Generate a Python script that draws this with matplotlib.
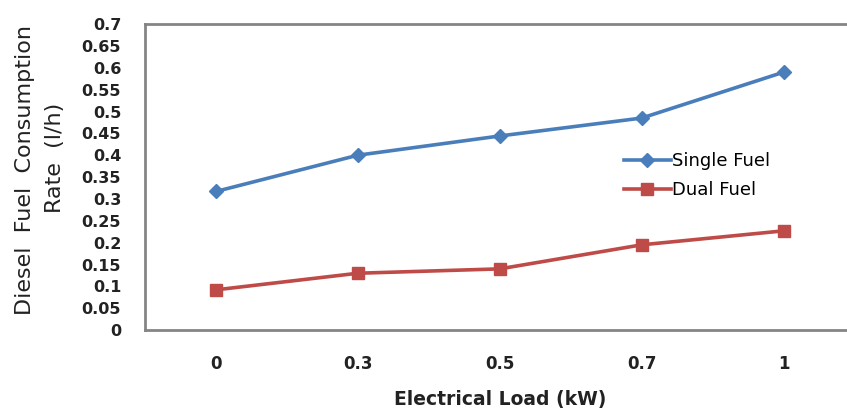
import matplotlib.pyplot as plt
import numpy as np

plt.rcParams["font.family"] = ["DejaVu Sans"]

# data
loads = ["0", "0.3", "0.5", "0.7", "1"]
single_fuel = [0.317, 0.40, 0.444, 0.485, 0.59]
dual_fuel = [0.092, 0.13, 0.14, 0.195, 0.227]
y_ticks = [0, 0.05, 0.1, 0.15, 0.2, 0.25, 0.3, 0.35, 0.4, 0.45, 0.5, 0.55, 0.6, 0.65, 0.7]
y_tick_labels = ["0", "0.05", "0.1", "0.15", "0.2", "0.25", "0.3", "0.35", "0.4",
                 "0.45", "0.5", "0.55", "0.6", "0.65", "0.7"]

BLUE = "#4a7ebb"
RED = "#be4b48"
TXT = "#222222"

fig = plt.figure(figsize=(8.47, 4.08), dpi=100)
ax = fig.add_axes([0.171, 0.191, 0.838, 0.750])

x = np.arange(len(loads))
ax.plot(x, single_fuel, color=BLUE, linewidth=2.6, marker="D", markersize=7,
        label="Single Fuel")
ax.plot(x, dual_fuel, color=RED, linewidth=2.6, marker="s", markersize=8,
        label="Dual Fuel")

ax.set_xlim(-0.5, len(loads) - 0.5)
ax.set_ylim(0, 0.7)
ax.set_xticks(x)
ax.set_xticklabels(loads, fontsize=12, fontweight="bold", color=TXT)
ax.set_yticks(y_ticks)
ax.set_yticklabels(y_tick_labels, fontsize=11.5, fontweight="bold", color=TXT)
ax.tick_params(axis="x", length=0, pad=18)
ax.tick_params(axis="y", length=0, pad=17)

for s in ax.spines.values():
    s.set_color("#858585")
    s.set_linewidth(2)

ax.set_xlabel("Electrical Load (kW)", fontsize=13.5, fontweight="bold", color=TXT,
              labelpad=12)
fig.text(25 / 847, 1 - 170 / 408, "Diesel  Fuel  Consumption", rotation=90,
         ha="center", va="center", fontsize=16, color=TXT)
fig.text(55 / 847, 1 - 158 / 408, "Rate  (l/h)", rotation=90,
         ha="center", va="center", fontsize=16, color=TXT)

ax.legend(loc="upper left", bbox_to_anchor=(0.662, 0.61), frameon=False, fontsize=13,
          handlelength=2.6, handletextpad=0.05, labelspacing=0.6, borderpad=0)

fig.savefig("out.png", dpi=100)
